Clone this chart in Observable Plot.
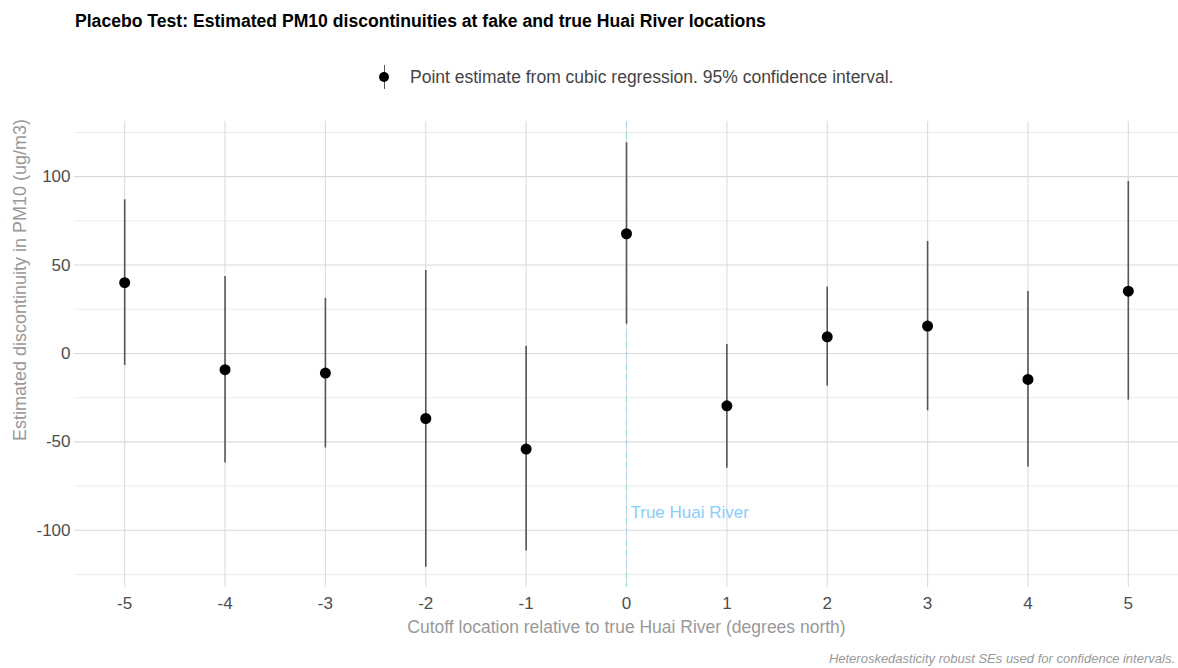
<!DOCTYPE html>
<html>
<head>
<meta charset="utf-8">
<script src="https://cdn.jsdelivr.net/npm/d3@7"></script>
<script src="https://cdn.jsdelivr.net/npm/@observablehq/plot@0.6"></script>
<style>
  html, body { margin: 0; padding: 0; background: #fff; }
  #wrap { position: relative; width: 1178px; height: 668px; overflow: hidden;
    font-family: "Liberation Sans Narrow", "Arial Narrow", "Liberation Sans", Arial, sans-serif; }
  #title { position: absolute; left: 75px; top: 11px; font-size: 17.6px; font-weight: bold; color: #000; white-space: nowrap; }
  #legend { position: absolute; left: 374px; top: 63px; height: 28px; display: flex; align-items: center; white-space: nowrap; }
  #legend .key { position: relative; width: 20px; height: 28px; }
  #legend .key .bar { position: absolute; left: 9.5px; top: 2px; width: 1.2px; height: 24px; background: #555; }
  #legend .key .pt { position: absolute; left: 5px; top: 9px; width: 10px; height: 10px; border-radius: 50%; background: #000; }
  #legend .lab { margin-left: 16px; font-size: 17.5px; color: #444; }
  #chart { position: absolute; left: 0; top: 105px; }
  #ylab { position: absolute; left: 20px; top: 280px; transform: translate(-50%, -50%) rotate(-90deg); font-size: 18px; color: #999; white-space: nowrap; }
  #caption { position: absolute; right: 3px; top: 651px; font-size: 13px; font-style: italic; color: #999; white-space: nowrap; }
</style>
</head>
<body>
<div id="wrap">
  <div id="title"></div>
  <div id="legend"><div class="key"><div class="bar"></div><div class="pt"></div></div><div class="lab"></div></div>
  <div id="chart"></div>
  <div id="ylab"></div>
  <div id="caption"></div>
</div>
<script>
// ---- data ----
const cutoffs   = [-5, -4, -3, -2, -1, 0, 1, 2, 3, 4, 5];
const estimates = [40.0, -9.2, -11.1, -36.8, -54.1, 67.7, -29.6, 9.4, 15.5, -14.7, 35.2];
const ciLow     = [-6.8, -62.0, -53.5, -120.9, -111.8, 16.6, -64.9, -18.5, -32.4, -64.3, -26.4];
const ciHigh    = [86.9, 43.5, 31.1, 46.9, 4.0, 119.2, 5.1, 37.5, 63.3, 35.1, 97.3];
const xTicks    = [-5, -4, -3, -2, -1, 0, 1, 2, 3, 4, 5];
const yTicks    = [-100, -50, 0, 50, 100];
const yMinor    = [-125, -75, -25, 25, 75, 125];
const riverX    = [0];
const riverLabel = "True Huai River";
const riverLabelY = -90;

const titleText = "Placebo Test: Estimated PM10 discontinuities at fake and true Huai River locations";
const legendText = "Point estimate from cubic regression. 95% confidence interval.";
const xLabel = "Cutoff location relative to true Huai River (degrees north)";
const yLabel = "Estimated discontinuity in PM10 (ug/m3)";
const captionText = "Heteroskedasticity robust SEs used for confidence intervals.";

const rows = cutoffs.map((c, i) => ({cutoff: c, est: estimates[i], lo: ciLow[i], hi: ciHigh[i]}));

document.getElementById("title").textContent = titleText;
document.querySelector("#legend .lab").textContent = legendText;
document.getElementById("ylab").textContent = yLabel;
document.getElementById("caption").textContent = captionText;

const font = '"Liberation Sans Narrow", "Arial Narrow", "Liberation Sans", Arial, sans-serif';

const chart = Plot.plot({
  width: 1178,
  height: 545,
  marginLeft: 74,
  marginRight: 0,
  marginTop: 16,
  marginBottom: 63,
  style: {fontFamily: font, background: "#fff"},
  x: {domain: [-5.5, 5.5]},
  y: {domain: [-132.4, 131.2]},
  marks: [
    Plot.ruleY(yMinor, {stroke: "#ebebeb", strokeWidth: 1}),
    Plot.ruleY(yTicks, {stroke: "#d9d9d9", strokeWidth: 1.1}),
    Plot.ruleX(xTicks, {stroke: "#dcdcdc", strokeWidth: 1.1}),
    Plot.ruleX(riverX, {stroke: "#add8e6", strokeWidth: 1.3, strokeDasharray: "7,4"}),
    Plot.text(riverX, {x: d => d, y: () => riverLabelY, text: () => riverLabel, textAnchor: "start", dx: 4, fill: "#87cefa", fontSize: 17}),
    Plot.ruleX(rows, {x: "cutoff", y1: "lo", y2: "hi", stroke: "#555", strokeWidth: 1.6}),
    Plot.dot(rows, {x: "cutoff", y: "est", r: 5.5, fill: "#000", stroke: "none"}),
    Plot.axisX(xTicks, {tickSize: 0, tickPadding: 9, fontSize: 17, fill: "#4d4d4d", label: null, tickFormat: d => d < 0 ? "-" + Math.abs(d) : String(d)}),
    Plot.axisY(yTicks, {tickSize: 0, tickPadding: 4, fontSize: 17, fill: "#4d4d4d", label: null, tickFormat: d => d < 0 ? "-" + Math.abs(d) : String(d)}),
    Plot.text([xLabel], {frameAnchor: "bottom", dy: 45, text: d => d, fill: "#999", fontSize: 17.5})
  ]
});
document.getElementById("chart").appendChild(chart);
</script>
</body>
</html>
